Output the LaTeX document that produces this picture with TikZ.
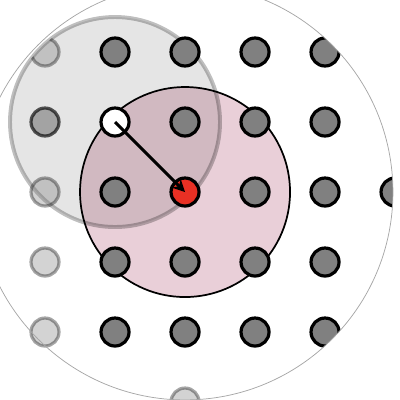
\documentclass[tikz,border=0pt]{standalone}
\usepackage{latexsym,amssymb}
\usetikzlibrary{arrows.meta}
\definecolor{dotgray}{RGB}{128,128,128}
\definecolor{zonepink}{RGB}{233,207,216}
\definecolor{hotred}{RGB}{232,48,36}
\tikzset{
	site/.style={draw,circle,line width=1.3pt,fill=dotgray,minimum size=0.4cm,inner sep=0pt},
	faded/.style={site,opacity=0.35}
}

\begin{document}
\begin{tikzpicture}
	\useasboundingbox (-2.643,-2.971) rectangle (3.071,2.743);
	% zone round the red site
	\fill[zonepink] (0,0) circle (1.5);
	\draw[black,line width=0.7pt] (0,0) circle (1.5);
	% zone round the white site
	\fill[black,opacity=0.1] (-1,1) circle (1.5);
	\draw[black,opacity=0.25,line width=1.6pt] (-1,1) circle (1.5);
	% lattice inside the big disc
	\begin{scope}
		\clip (0,0) circle (2.97);
		\foreach \i/\j in {-1/2,0/2,1/2,2/2, 0/1,1/1,2/1, -1/0,1/0,2/0,3/0,
		                   -1/-1,0/-1,1/-1,2/-1, -1/-2,0/-2,1/-2,2/-2}
			\node[site] (S\i\j) at (\i,\j) {};
	\end{scope}
	% faded sites
	\begin{scope}
		\clip (-1,1) circle (1.5);
		\node[faded] (F0) at (-2,2) {};
	\end{scope}
	\node[site,opacity=0.65] (F1) at (-2,1) {};
	\node[faded] (F2) at (-2,0) {};
	\node[faded] (F3) at (-2,-1) {};
	\node[faded] (F4) at (-2,-2) {};
	\node[faded] (F5) at (0,-3) {};
	\draw[gray!70,line width=0.3pt] (0,0) circle (2.97);
	% the two marked sites
	\node[site,fill=white] (W) at (-1,1) {};
	\node[site,fill=hotred] (R) at (0,0) {};
	\path[-{Stealth[length=5pt,width=5pt]},line width=1.2pt]
	     (W.center) edge (R.center);
\end{tikzpicture}
\end{document}
